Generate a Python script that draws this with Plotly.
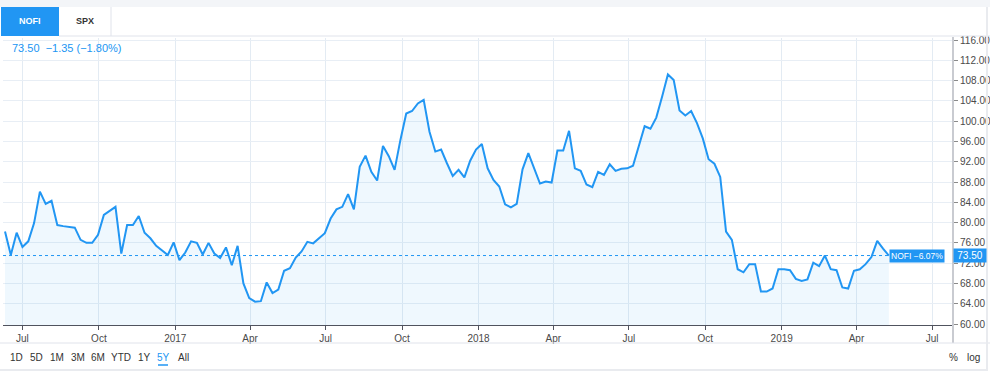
import pandas as pd
import plotly.graph_objects as go

# ---- data (weekly closes, NOFI) ----
last_date = "2019-05-10"
prices = [
    78.25, 73.6, 78.0, 75.2, 76.3, 79.9, 86.1, 83.7, 84.3, 79.5,
    79.3, 79.1, 79.0, 76.6, 76.0, 76.0, 77.6, 81.5, 82.3, 83.1,
    73.9, 79.5, 79.5, 81.3, 78.0, 76.9, 75.4, 74.5, 73.6, 76.1,
    72.6, 74.1, 76.3, 76.0, 73.7, 76.0, 73.9, 73.0, 75.1, 71.6,
    75.4, 68.0, 65.1, 64.4, 64.5, 68.2, 66.1, 66.8, 70.5, 71.0,
    73.1, 74.3, 76.2, 75.9, 77.0, 77.9, 80.8, 82.6, 83.1, 85.6,
    82.6, 91.0, 93.2, 90.0, 88.3, 95.1, 93.1, 90.4, 96.3, 101.5,
    102.0, 103.5, 104.2, 97.9, 94.0, 94.4, 91.7, 89.2, 90.4, 88.9,
    92.2, 94.4, 95.5, 90.7, 88.4, 87.1, 83.6, 83.0, 83.7, 90.5,
    93.7, 90.7, 87.7, 88.1, 87.9, 94.2, 94.2, 98.1, 90.7, 90.2,
    87.5, 87.0, 90.0, 89.4, 91.5, 90.2, 90.6, 90.7, 91.2, 95.1,
    99.0, 98.5, 100.7, 104.8, 109.2, 108.1, 102.1, 101.1, 102.0, 99.6,
    96.6, 92.5, 91.6, 89.0, 78.2, 76.6, 70.8, 70.2, 71.8, 71.8,
    66.4, 66.4, 67.0, 70.8, 70.8, 70.6, 68.9, 68.5, 68.8, 72.1,
    71.4, 73.5, 70.8, 70.6, 67.2, 67.0, 70.5, 70.8, 71.8, 73.2,
    76.4, 74.85, 73.50,
]
dates = list(pd.date_range(end=last_date, periods=len(prices), freq="7D"))

x_tick_vals = ["2016-07-01", "2016-10-01", "2017-01-01", "2017-04-01", "2017-07-01",
               "2017-10-01", "2018-01-01", "2018-04-01", "2018-07-01", "2018-10-01",
               "2019-01-01", "2019-04-01", "2019-07-01"]
x_tick_text = ["Jul", "Oct", "2017", "Apr", "Jul", "Oct", "2018", "Apr", "Jul", "Oct",
               "2019", "Apr", "Jul"]
y_ticks = list(range(60, 117, 4))
symbol = "NOFI"
other_symbol = "SPX"
range_buttons = ["1D", "5D", "1M", "3M", "6M", "YTD", "1Y", "5Y", "All"]
active_button = "5Y"

last = prices[-1]
prev = prices[-2]
chg = last - prev
chg_pct = chg / prev * 100
range_pct = (last / prices[0] - 1) * 100


def fmt(v):
    s = f"{abs(v):.2f}"
    return ("\u2212" + s) if v < 0 else s


BLUE = "#2196f3"
W, H = 990, 373
L, R, T, B = 3, 953, 38, 325  # plot area in pixels


def xp(px):
    return (px - L) / (R - L)


def yp(py):
    return (B - py) / (B - T)


fig = go.Figure()
fig.add_trace(go.Scatter(
    x=dates, y=prices, mode="lines",
    line=dict(color=BLUE, width=2),
    fill="tozeroy", fillcolor="rgba(33,150,243,0.07)",
    hoverinfo="skip",
))

font_family = "Liberation Sans, Arial, sans-serif"
axis_font = dict(family=font_family, size=10, color="#4a4a4a")

fig.update_layout(
    width=W, height=H, autosize=False,
    margin=dict(l=L, r=W - R, t=T, b=H - B, pad=0),
    paper_bgcolor="white", plot_bgcolor="white",
    showlegend=False,
    xaxis=dict(
        type="date", automargin=False,
        range=["2016-06-07 14:00", "2019-07-26 05:00"],
        tickvals=x_tick_vals, ticktext=x_tick_text,
        showgrid=True, gridcolor="#e3ebf3", gridwidth=1,
        showline=True, linecolor="#50535e", linewidth=1,
        ticks="outside", ticklen=4, tickcolor="#50535e",
        tickfont=axis_font, zeroline=False,
    ),
    yaxis=dict(
        side="right", automargin=False,
        range=[60 - 1 / 5.071, 116 + 2 / 5.071],
        tickvals=y_ticks, tickformat=".2f",
        showgrid=True, gridcolor="#e8eef5", gridwidth=1,
        ticks="outside", ticklen=4, tickcolor="#8a8a8a",
        tickfont=axis_font, zeroline=False, showline=False,
    ),
)

shapes = []
# top strip
shapes.append(dict(type="rect", xref="paper", yref="paper", x0=xp(0), x1=xp(W), y0=yp(0), y1=yp(7),
                   fillcolor="#f3f5f8", line=dict(width=0), layer="above"))
# tabs
shapes.append(dict(type="rect", xref="paper", yref="paper", x0=xp(1), x1=xp(59), y0=yp(7), y1=yp(36),
                   fillcolor=BLUE, line=dict(width=0), layer="above"))
shapes.append(dict(type="line", xref="paper", yref="paper", x0=xp(111), x1=xp(111), y0=yp(7), y1=yp(36),
                   line=dict(color="#e0e3eb", width=1), layer="above"))
shapes.append(dict(type="line", xref="paper", yref="paper", x0=xp(59), x1=xp(W), y0=yp(36), y1=yp(36),
                   line=dict(color="#e0e3eb", width=1), layer="above"))
# price axis separator
shapes.append(dict(type="line", xref="paper", yref="paper", x0=xp(953), x1=xp(953), y0=yp(37), y1=yp(343),
                   line=dict(color="#c9cbd1", width=2), layer="above"))
# bottom separator
shapes.append(dict(type="line", xref="paper", yref="paper", x0=xp(0), x1=xp(W), y0=yp(343), y1=yp(343),
                   line=dict(color="#e0e3eb", width=1), layer="above"))
# frame
shapes.append(dict(type="line", xref="paper", yref="paper", x0=xp(987), x1=xp(987), y0=yp(7), y1=yp(370),
                   line=dict(color="#e9ebef", width=2), layer="above"))
shapes.append(dict(type="line", xref="paper", yref="paper", x0=xp(0), x1=xp(988), y0=yp(370), y1=yp(370),
                   line=dict(color="#e9ebef", width=2), layer="above"))
# last price dotted line
shapes.append(dict(type="line", xref="paper", yref="y", x0=0, x1=xp(900), y0=last, y1=last,
                   line=dict(color=BLUE, width=1, dash="dot"), layer="above"))

C = dict(xanchor="center", yanchor="middle", showarrow=False)
ann = []
ann.append(dict(xref="paper", yref="paper", x=xp(30), y=yp(21.5), text=f"<b>{symbol}</b>",
                font=dict(family=font_family, size=9, color="white"), **C))
ann.append(dict(xref="paper", yref="paper", x=xp(85), y=yp(21.5), text=f"<b>{other_symbol}</b>",
                font=dict(family=font_family, size=9, color="#333333"), **C))
ann.append(dict(xref="paper", yref="paper", x=xp(10), y=yp(48), xanchor="left", yanchor="middle",
                text=f"{last:.2f}  {fmt(chg)} ({fmt(chg_pct)}%)",
                showarrow=False, font=dict(family=font_family, size=11, color=BLUE)))
ann.append(dict(xref="paper", yref="y", x=xp(945), y=last, xanchor="right", yanchor="middle",
                text=f"{symbol} {fmt(range_pct)}%", showarrow=False, bgcolor=BLUE, borderpad=1,
                font=dict(family=font_family, size=8.5, color="white")))
ann.append(dict(xref="paper", yref="y", x=xp(953), y=last, xanchor="left", yanchor="middle",
                text=f"{last:.2f}", showarrow=False, bgcolor=BLUE, borderpad=1, width=30,
                font=dict(family=font_family, size=10, color="white")))

btn_x = [16, 36, 57, 78, 98, 121, 144, 163, 183]
for name, bx in zip(range_buttons, btn_x):
    col = BLUE if name == active_button else "#333333"
    ann.append(dict(xref="paper", yref="paper", x=xp(bx), y=yp(357), text=name,
                    font=dict(family=font_family, size=10, color=col), **C))
    if name == active_button:
        shapes.append(dict(type="line", xref="paper", yref="paper", x0=xp(bx - 5), x1=xp(bx + 5),
                           y0=yp(365), y1=yp(365), line=dict(color=BLUE, width=1.5), layer="above"))
ann.append(dict(xref="paper", yref="paper", x=xp(953), y=yp(357), text="%",
                font=dict(family=font_family, size=10, color="#333333"), **C))
ann.append(dict(xref="paper", yref="paper", x=xp(973), y=yp(357), text="log",
                font=dict(family=font_family, size=10, color="#333333"), **C))

fig.update_layout(annotations=ann, shapes=shapes)
fig.write_html(
    "out.html",
    config={"displayModeBar": False},
    post_script="document.body.style.margin='0';document.body.style.overflow='hidden';",
)
